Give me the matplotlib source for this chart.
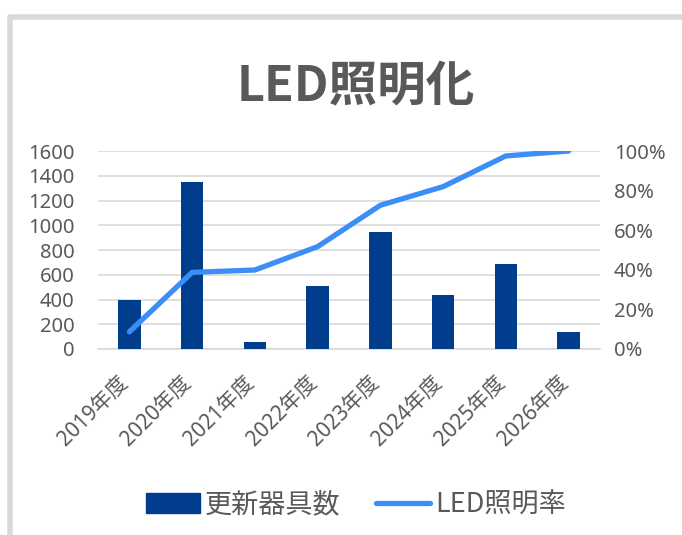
import matplotlib
matplotlib.use("Agg")
import matplotlib.pyplot as plt
import matplotlib.transforms as mtransforms
from matplotlib.patches import Rectangle
from matplotlib.ticker import PercentFormatter
from matplotlib.lines import Line2D

plt.rcParams['font.family'] = ['Noto Sans', 'Noto Sans CJK JP']
cjk = ['Noto Sans CJK JP', 'DejaVu Sans']

# data
years = ['2019年度', '2020年度', '2021年度', '2022年度',
         '2023年度', '2024年度', '2025年度', '2026年度']
fixtures = [400, 1350, 55, 510, 945, 435, 690, 135]
led_rate = [0.087, 0.387, 0.399, 0.517, 0.726, 0.82, 0.975, 1.0]

bar_color = '#003d8c'
line_color = '#3a8ef6'
text_color = '#595959'
grid_color = '#d9d9d9'

fig = plt.figure(figsize=(6.82, 5.35), dpi=100)

# chart frame (cropped on right/bottom in the reference)
frame = Rectangle((10 / 682, -0.2), 1.2, (535 - 17) / 535 + 0.2,
                  transform=fig.transFigure, fill=False,
                  edgecolor=grid_color, linewidth=4.0, joinstyle='round')
fig.patches.append(frame)

ax = fig.add_axes([98 / 682, 186 / 535, 502 / 682, 198 / 535])
x = range(len(years))
ax.bar(x, fixtures, width=0.36, color=bar_color, zorder=3)
ax.set_xlim(-0.5, len(years) - 0.5)
ax.set_ylim(0, 1600)
ax.set_yticks(range(0, 1601, 200))
ax.grid(axis='y', color=grid_color, linewidth=1.2, zorder=0)
for s in ['top', 'right', 'left']:
    ax.spines[s].set_visible(False)
ax.spines['bottom'].set_color(grid_color)
ax.spines['bottom'].set_linewidth(1.2)
ax.tick_params(axis='both', length=0, labelcolor=text_color)
ax.tick_params(axis='y', labelsize=14.5, pad=17)
ax.set_xticks(list(x))
ax.set_xticklabels(years, rotation=45, ha='right', va='center',
                   rotation_mode='anchor', fontsize=15)
ax.tick_params(axis='x', pad=22)
shift = mtransforms.ScaledTranslation(-4 / 100, 0, fig.dpi_scale_trans)
for lab in ax.get_xticklabels():
    lab.set_transform(lab.get_transform() + shift)

ax2 = ax.twinx()
ax2.plot(x, led_rate, color=line_color, linewidth=3.8,
         solid_capstyle='round', zorder=4)
ax2.set_ylim(0, 1)
ax2.set_yticks([0, 0.2, 0.4, 0.6, 0.8, 1.0])
ax2.yaxis.set_major_formatter(PercentFormatter(1.0, decimals=0))
for s in ax2.spines.values():
    s.set_visible(False)
ax2.tick_params(axis='y', length=0, labelcolor=text_color, labelsize=14.5,
                pad=10)

fig.text(0.522, 0.839, 'LED照明化', ha='center', va='center', fontsize=35,
         fontweight='bold', color=text_color, family=cjk)

handles = [Rectangle((0, 0), 1, 1, color=bar_color),
           Line2D([0], [0], color=line_color, linewidth=3.8,
                  solid_capstyle='round')]
fig.legend(handles, ['更新器具数', 'LED照明率'], loc='center',
           bbox_to_anchor=(0.522, 0.056), ncol=2, frameon=False,
           prop={'family': cjk, 'size': 19.5}, labelcolor=text_color,
           handlelength=2.0, handleheight=0.8, handletextpad=0.2,
           columnspacing=1.3)

fig.savefig('out.png', dpi=100)
